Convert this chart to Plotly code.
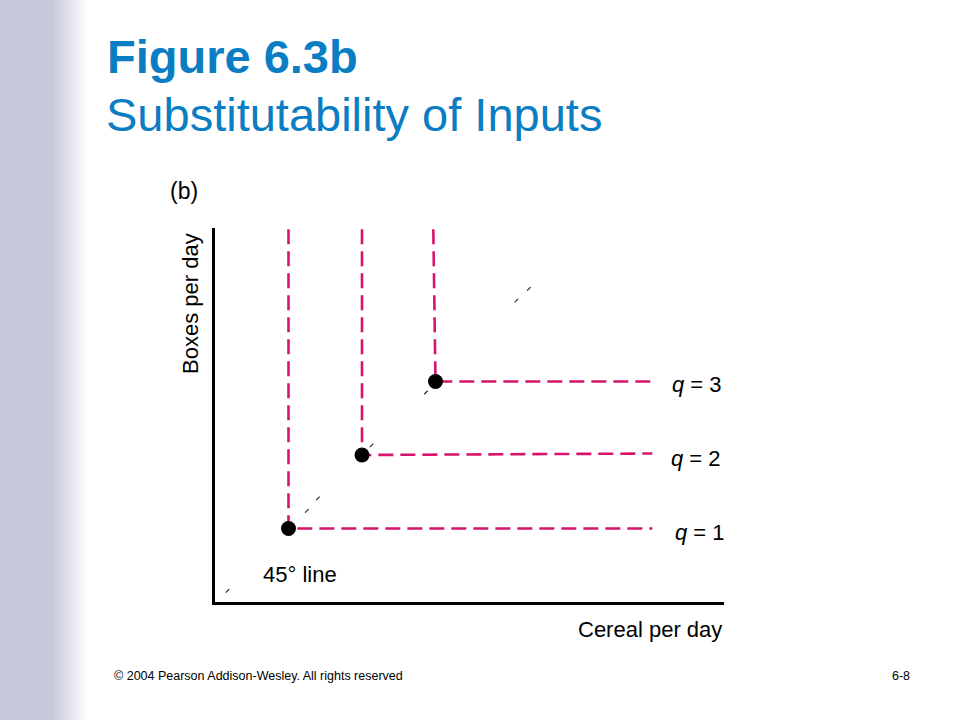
import plotly.graph_objects as go

# ---------------- data ----------------
corner_x = [1.0, 2.0, 3.0]          # kink points (cereal)
corner_y = [1.0, 2.0, 3.0]          # kink points (boxes)
vertical_top_x = [1.0, 2.0, 2.97]   # x at top of vertical arm
vertical_top_y = [5.07, 5.07, 5.07]
horizontal_end_x = [5.95, 5.95, 5.95]
horizontal_end_y = [1.0, 2.02, 3.0]
isoquant_labels = ["<i>q</i> = 1", "<i>q</i> = 2", "<i>q</i> = 3"]
label_x = [6.6, 6.55, 6.56]
label_y = [0.95, 1.95, 2.96]

diag_x = [0.17, 1.25, 1.40, 2.13, 2.87, 4.10, 4.27]   # faint 45° line fragments
diag_y = [0.15, 1.24, 1.41, 2.13, 2.85, 4.10, 4.26]

x_max = 6.925
y_max = 5.088

# ---------------- styling ----------------
W, H = 960, 720
PINK = "#D6146E"
BLUE = "#0B7DC3"
FONT = "Liberation Sans, Arial, sans-serif"


def px(x):
    return x / W


def py(y):
    return 1 - y / H


fig = go.Figure()

for i in range(3):
    fig.add_trace(go.Scatter(
        x=[vertical_top_x[i], corner_x[i], horizontal_end_x[i]],
        y=[vertical_top_y[i], corner_y[i], horizontal_end_y[i]],
        mode="lines",
        line=dict(color=PINK, width=2.6, dash="15px,7px"),
        hoverinfo="skip", showlegend=False,
    ))

fig.add_trace(go.Scatter(
    x=diag_x, y=diag_y, mode="markers",
    marker=dict(symbol="line-ne", size=3.5, line=dict(color="#222222", width=1.1)),
    hoverinfo="skip", showlegend=False,
))

fig.add_trace(go.Scatter(
    x=corner_x, y=corner_y, mode="markers",
    marker=dict(color="black", size=15, line=dict(width=0)),
    hoverinfo="skip", showlegend=False, cliponaxis=False,
))

annotations = []
for i in range(3):
    annotations.append(dict(
        x=label_x[i], y=label_y[i], xref="x", yref="y",
        text=isoquant_labels[i], showarrow=False,
        font=dict(family=FONT, size=22, color="black"),
        xanchor="center", yanchor="middle",
    ))

def text_at(x, y, text, size, color="black", xanchor="left", bold=False, angle=0):
    t = f"<b>{text}</b>" if bold else text
    annotations.append(dict(
        x=px(x), y=py(y), xref="paper", yref="paper", text=t, showarrow=False,
        font=dict(family=FONT, size=size, color=color),
        xanchor=xanchor, yanchor="middle", textangle=angle,
    ))

text_at(105, 57, "Figure 6.3b", 47, BLUE, bold=True)
text_at(104, 114, "Substitutability of Inputs", 47, BLUE)
text_at(184, 191, "(b)", 23, xanchor="center")
text_at(190, 304, "Boxes per day", 22, xanchor="center", angle=-90)
text_at(300, 574, "45° line", 22, xanchor="center")
text_at(724, 629, "Cereal per day", 22, xanchor="right")
text_at(112, 676, "© 2004 Pearson Addison-Wesley. All rights reserved", 12.5)
text_at(912, 676, "6-8", 12.5, xanchor="right")

# left gradient band
shapes = []
base = (200, 200, 219)
solid_end = 52
fade_end = 88
shapes.append(dict(type="rect", xref="paper", yref="paper",
                   x0=0, x1=px(solid_end), y0=0, y1=1,
                   fillcolor=f"rgb{base}", line=dict(width=0), layer="below"))
steps = 36
for k in range(steps):
    x0 = solid_end + (fade_end - solid_end) * k / steps
    x1 = solid_end + (fade_end - solid_end) * (k + 1) / steps + 0.5
    t = (k + 0.5) / steps
    c = tuple(int(round(b + (255 - b) * t)) for b in base)
    shapes.append(dict(type="rect", xref="paper", yref="paper",
                       x0=px(x0), x1=px(x1), y0=0, y1=1,
                       fillcolor=f"rgb{c}", line=dict(width=0), layer="below"))

fig.update_layout(
    width=W, height=H,
    margin=dict(l=0, r=0, t=0, b=0),
    paper_bgcolor="white", plot_bgcolor="rgba(0,0,0,0)",
    annotations=annotations, shapes=shapes,
    xaxis=dict(domain=[px(215), px(724)], range=[0, x_max],
               showgrid=False, zeroline=False, showticklabels=False, ticks="",
               showline=True, linecolor="black", linewidth=2.5, fixedrange=True),
    yaxis=dict(domain=[py(602), py(228)], range=[0, y_max],
               showgrid=False, zeroline=False, showticklabels=False, ticks="",
               showline=True, linecolor="black", linewidth=2.5, fixedrange=True),
    showlegend=False,
)

fig.write_html(
    "out.html",
    config={"displayModeBar": False},
    post_script="document.body.style.margin='0';document.body.style.overflow='hidden';",
)
